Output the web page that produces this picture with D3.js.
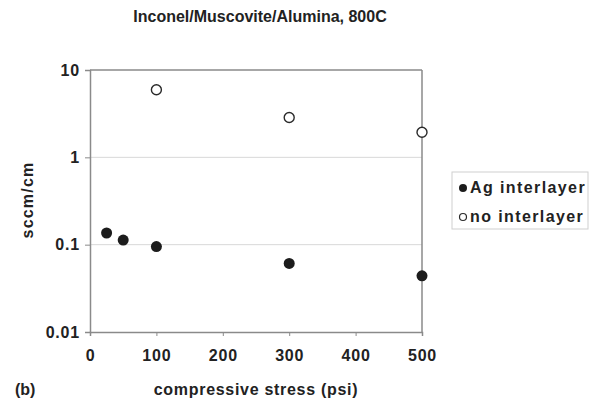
<!DOCTYPE html>
<html>
<head>
<meta charset="utf-8">
<script src="https://cdn.jsdelivr.net/npm/d3@7"></script>
<style>
  body { margin: 0; background: #fff; }
  text { font-family: "Liberation Sans", Arial, sans-serif; font-weight: bold; fill: #222; }
</style>
</head>
<body>
<div id="chart"></div>
<script>
// data
var agStress = [25, 50, 100, 300, 500];
var agFlow = [0.136, 0.113, 0.095, 0.061, 0.044];
var noStress = [100, 300, 500];
var noFlow = [5.95, 2.86, 1.94];
var xTicks = [0, 100, 200, 300, 400, 500];
var yTicks = [0.01, 0.1, 1, 10];
var seriesNames = ["Ag interlayer", "no interlayer"];

var width = 594, height = 402,
    margin = {top: 70, right: 172, bottom: 70, left: 90};

var svg = d3.select("#chart").append("svg")
    .attr("width", width)
    .attr("height", height);

var g = svg.append("g")
    .attr("transform", `translate(${margin.left},${margin.top})`);

var w = width - margin.left - margin.right,
    h = height - margin.top - margin.bottom;

var x = d3.scaleLinear().domain([0, 500]).range([0, w]);
var y = d3.scaleLog().domain([0.01, 10]).range([h, 0]);

// gridlines
g.selectAll(".grid")
  .data([0.1, 1])
  .enter().append("line")
  .attr("x1", 0).attr("x2", w)
  .attr("y1", d => y(d)).attr("y2", d => y(d))
  .style("stroke", "#d8d8d8").style("stroke-width", 1);

// frame top/right
g.append("line").attr("x1", 0).attr("x2", w).attr("y1", 0).attr("y2", 0)
  .style("stroke", "#8a8a8a").style("stroke-width", 1.5);
g.append("line").attr("x1", w).attr("x2", w).attr("y1", 0).attr("y2", h)
  .style("stroke", "#8a8a8a").style("stroke-width", 1.5);

var xAxis = d3.axisBottom(x).tickValues(xTicks).tickSize(4).tickPadding(14).tickFormat(d3.format("d"));
var yAxis = d3.axisLeft(y).tickValues(yTicks).tickSize(5).tickPadding(5)
    .tickFormat(d => d >= 1 ? d3.format("d")(d) : String(d));

var gx = g.append("g").attr("transform", `translate(0,${h})`).call(xAxis);
var gy = g.append("g").call(yAxis);

[gx, gy].forEach(a => {
  a.select(".domain").style("stroke", "#8a8a8a").style("stroke-width", 1.5);
  a.selectAll(".tick line").style("stroke", "#8a8a8a");
  a.selectAll(".tick text").style("font-size", "16px").style("fill", "#222")
    .style("letter-spacing", "0.8px")
    .style("font-family", "'Liberation Sans', Arial, sans-serif").style("font-weight", "bold");
});

// points
var agData = agStress.map((s, i) => ({x: s, y: agFlow[i]}));
var noData = noStress.map((s, i) => ({x: s, y: noFlow[i]}));

g.selectAll(".ag")
  .data(agData)
  .enter().append("circle")
  .attr("cx", d => x(d.x)).attr("cy", d => y(d.y))
  .attr("r", 5.5)
  .style("fill", "#1c1c1c");

g.selectAll(".no")
  .data(noData)
  .enter().append("circle")
  .attr("cx", d => x(d.x)).attr("cy", d => y(d.y))
  .attr("r", 5)
  .style("fill", "#fff").style("stroke", "#2a2a2a").style("stroke-width", 1.4);

// title
svg.append("text")
  .attr("x", 260).attr("y", 22)
  .style("text-anchor", "middle")
  .style("font-size", "16px")
  .text("Inconel/Muscovite/Alumina, 800C");

// axis labels
svg.append("text")
  .attr("x", 256).attr("y", 395)
  .style("text-anchor", "middle")
  .style("font-size", "16px")
  .style("letter-spacing", "0.7px")
  .text("compressive stress (psi)");

svg.append("text")
  .attr("transform", "translate(33,200) rotate(-90)")
  .style("text-anchor", "middle")
  .style("font-size", "16px")
  .style("letter-spacing", "1.2px")
  .text("sccm/cm");

svg.append("text")
  .attr("x", 15).attr("y", 395)
  .style("font-size", "16px")
  .text("(b)");

// legend
var legend = svg.append("g").attr("transform", "translate(452,172)");
legend.append("rect")
  .attr("width", 136).attr("height", 57)
  .style("fill", "#fff").style("stroke", "#cfcfcf");

seriesNames.forEach((name, i) => {
  var cy = 16 + i * 29;
  legend.append("circle")
    .attr("cx", 11).attr("cy", cy).attr("r", i === 0 ? 4 : 3.5)
    .style("fill", i === 0 ? "#1c1c1c" : "#fff")
    .style("stroke", "#2a2a2a").style("stroke-width", i === 0 ? 0 : 1.2);
  legend.append("text")
    .attr("x", 18).attr("y", cy + 5)
    .style("font-size", "16px")
    .style("letter-spacing", "1.4px")
    .text(name);
});
</script>
</body>
</html>
